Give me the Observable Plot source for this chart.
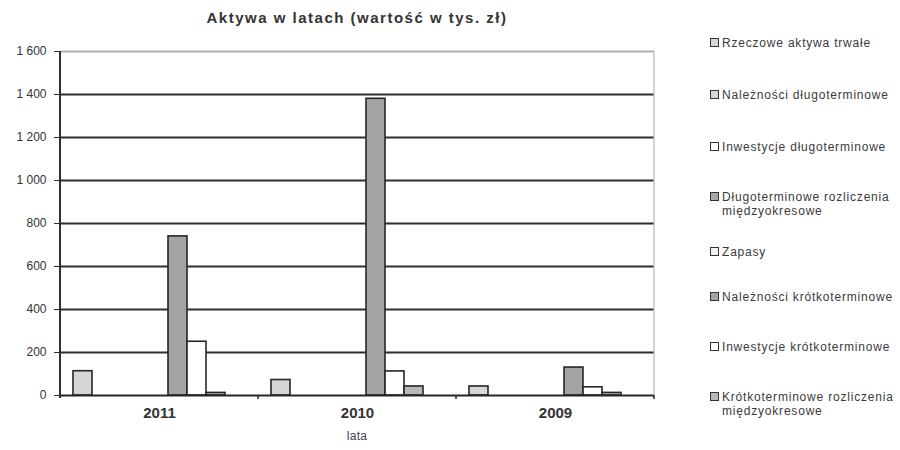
<!DOCTYPE html>
<html><head><meta charset="utf-8">
<script src="https://cdn.jsdelivr.net/npm/d3@7"></script>
<script src="https://cdn.jsdelivr.net/npm/@observablehq/plot@0.6"></script>
<style>
body{margin:0;background:#fff;font-family:"Liberation Sans",Arial,sans-serif;}
#wrap{position:relative;width:900px;height:450px;overflow:hidden;}
#chart{position:absolute;left:0;top:0;}
#title{position:absolute;top:9px;left:0;width:714px;text-align:center;font-weight:bold;font-size:15px;letter-spacing:1.5px;color:#333;}
#xlabel{position:absolute;top:429px;left:0;width:714px;text-align:center;font-size:12px;color:#444;letter-spacing:0.3px;}
.item{position:absolute;left:710px;font-size:12px;line-height:14px;color:#3a3a3a;letter-spacing:0.8px;}
.sw{position:absolute;left:0;top:2px;width:7px;height:7px;border:1.7px solid #333;}
.txt{margin-left:12px;}
</style>
</head><body>
<div id="wrap">
  <div id="chart"></div>
  <div id="title">Aktywa w latach (wartość w tys. zł)</div>
  <div id="xlabel">lata</div>
  <div id="legend"></div>
</div>
<script>
const years = ["2011", "2010", "2009"];
const series = [
  "Rzeczowe aktywa trwałe",
  "Należności długoterminowe",
  "Inwestycje długoterminowe",
  "Długoterminowe rozliczenia międzyokresowe",
  "Zapasy",
  "Należności krótkoterminowe",
  "Inwestycje krótkoterminowe",
  "Krótkoterminowe rozliczenia międzyokresowe"
];
const legendLines = [
  ["Rzeczowe aktywa trwałe"],
  ["Należności długoterminowe"],
  ["Inwestycje długoterminowe"],
  ["Długoterminowe rozliczenia", "międzyokresowe"],
  ["Zapasy"],
  ["Należności krótkoterminowe"],
  ["Inwestycje krótkoterminowe"],
  ["Krótkoterminowe rozliczenia", "międzyokresowe"]
];
const values2011 = [113, 0, 0, 0, 0, 740, 250, 12];
const values2010 = [72, 0, 0, 0, 0, 1380, 112, 42];
const values2009 = [42, 0, 0, 0, 0, 130, 38, 12];
const colors = ["#d6d6d6", "#d6d6d6", "#ffffff", "#a8a8a8", "#f2f2f2", "#a4a4a4", "#ffffff", "#b8b8b8"];
const yTicks = [0, 200, 400, 600, 800, 1000, 1200, 1400, 1600];
const legendTop = [36, 88, 140, 190, 245, 290, 340, 390];

const byYear = {"2011": values2011, "2010": values2010, "2009": values2009};
const rows = years.flatMap(y => series.map((s, i) => ({year: y, series: s, value: byYear[y][i]})))
  .filter(d => d.value > 0);

const W = 900, H = 450, mT = 51, mB = 55, mL = 60, mR = 246;

const plot = Plot.plot({
  width: W, height: H,
  marginTop: mT, marginBottom: mB, marginLeft: mL, marginRight: mR,
  style: {background: "transparent", fontFamily: "'Liberation Sans', Arial, sans-serif"},
  fx: {domain: years, padding: 0, label: null},
  x: {domain: series, paddingInner: 0, paddingOuter: 1.21, align: 0.28, axis: null},
  y: {domain: [0, 1600], label: null},
  color: {domain: series, range: colors},
  marks: [
    Plot.ruleY(yTicks.filter(t => t > 0), {stroke: d => d === 1600 ? "#b0b0b0" : "#2e2e2e", strokeWidth: 1.8}),
    Plot.barY(rows, {fx: "year", x: "series", y: "value", fill: "series", stroke: "#262626", strokeWidth: 1.6}),
    Plot.ruleY([0], {stroke: "#262626", strokeWidth: 1.8}),
    Plot.axisY({ticks: yTicks, tickSize: 6, tickPadding: 8, fontSize: 12, color: "#333", label: null,
      tickFormat: d => d3.format(",")(d).replace(/,/g, " ")}),
    Plot.axisFx({anchor: "bottom", tickSize: 0, tickPadding: 12, label: null, fontSize: 15, fontWeight: "bold", color: "#333"})
  ]
});
document.getElementById("chart").appendChild(plot);

// axis line, right border, boundary ticks
const svg = d3.select(plot);
const fx = plot.scale("fx");
const y = plot.scale("y");
const y0 = y.apply(0), yTop = y.apply(1600);
svg.append("line").attr("x1", mL).attr("x2", mL).attr("y1", yTop).attr("y2", y0 + 3)
  .attr("stroke", "#262626").attr("stroke-width", 1.9);
svg.append("line").attr("x1", W - mR).attr("x2", W - mR).attr("y1", yTop).attr("y2", y0)
  .attr("stroke", "#b8b8b8").attr("stroke-width", 1.2);
years.forEach(yr => {
  const xr = fx.apply(yr) + fx.bandwidth;
  svg.append("line").attr("x1", xr).attr("x2", xr).attr("y1", y0).attr("y2", y0 + 4)
    .attr("stroke", "#262626").attr("stroke-width", 1.5);
});

// legend
const leg = document.getElementById("legend");
legendLines.forEach((lines, i) => {
  const div = document.createElement("div");
  div.className = "item";
  div.style.top = legendTop[i] + "px";
  const sw = document.createElement("div");
  sw.className = "sw";
  sw.style.background = colors[i];
  div.appendChild(sw);
  const t = document.createElement("div");
  t.className = "txt";
  t.innerHTML = lines.join("<br>");
  div.appendChild(t);
  leg.appendChild(div);
});
</script>
</body></html>
